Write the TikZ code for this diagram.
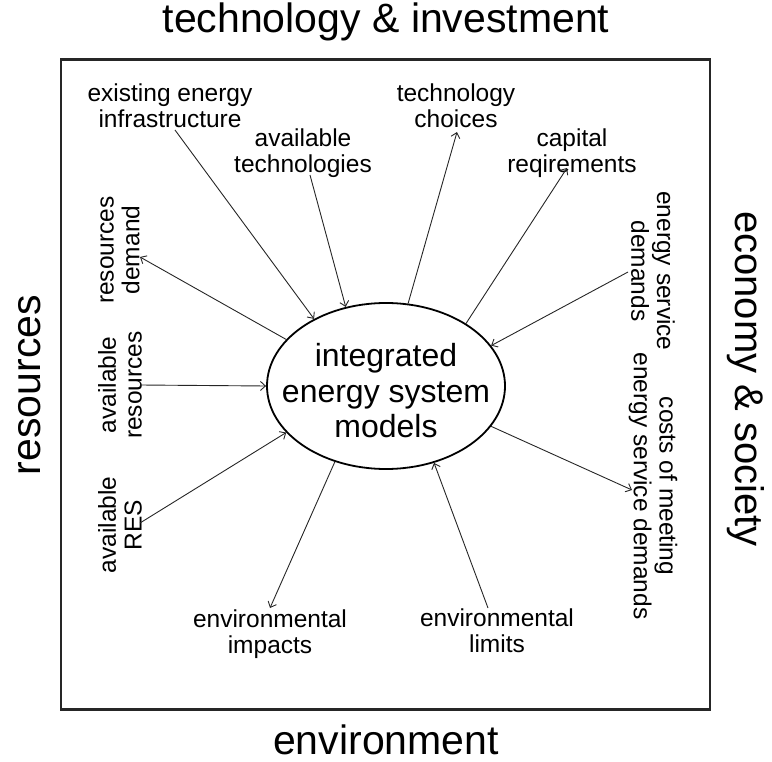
\documentclass[tikz,border=0pt]{standalone}
\usepackage{fontspec}
\setmainfont{Liberation Sans}
\usetikzlibrary{shapes.geometric,arrows.meta,calc}
\tikzset{
  lab/.style={inner sep=0pt, align=center, font=\fontsize{24.5}{25.8}\selectfont},
  big/.style={inner sep=0pt, align=center, font=\fontsize{41}{44}\selectfont},
  conn/.style={line width=0.9pt, draw=black!85, -{Straight Barb[length=5pt,width=9pt,line width=0.9pt]}},
}
\begin{document}
\begin{tikzpicture}[x=1pt,y=-1pt]
\useasboundingbox (0,0) rectangle (772,762);
\draw[line width=2.2pt, black!85] (61,59.5) rectangle (710,709.5);
% outer titles
\node[big] (ttop) at (386,22) {technology \& investment};
\node[big, rotate=90] (tres) at (30,385) {resources};
\node[big, rotate=-90, font=\fontsize{40}{44}\selectfont] (teco) at (746,379) {economy \& society};
\node[big] (tenv) at (386,739.5) {environment};
% central ellipse
\node[ellipse, draw, line width=1.8pt, minimum width=238pt, minimum height=166pt, inner sep=0pt] (ell) at (386,386) {};
\node[inner sep=0pt, align=center, font=\fontsize{32}{35.5}\selectfont] (elltxt) at (386,391) {integrated\\energy system\\models};
% labels
\node[lab] (ex) at (170,106) {existing energy\\infrastructure};
\node[lab] (at) at (303,153) {available\\technologies};
\node[lab] (tc) at (456,106) {technology\\choices};
\node[lab] (cr) at (572,153) {capital\\reqirements};
\node[lab, rotate=-90] (esd) at (653,271) {energy service\\demands};
\node[lab, rotate=-90] (cost) at (653,486) {costs of meeting\\energy service demands};
\node[lab] (el) at (497,631) {environmental\\limits};
\node[lab] (ei) at (270,634) {environmental\\impacts};
\node[lab, rotate=90] (res) at (120,525) {available\\RES};
\node[lab, rotate=90] (ar) at (120,385) {available\\resources};
\node[lab, rotate=90] (rd) at (120,250) {resources\\demand};
% connectors
\draw[conn] ($(ex)+(5,24)$) -- (ell.137);
\draw[conn] ($(at)+(7,22)$) -- (ell.117);
\draw[conn] (ell.75) -- ($(tc)+(1,26)$);
\draw[conn] (ell.38) -- ($(cr)+(-5,15)$);
\draw[conn] ($(esd)+(-25,1)$) -- (ell.21);
\draw[conn] (ell.-21) -- ($(cost)+(-21,4)$);
\draw[conn] ($(el)+(-9,-23)$) -- (ell.-58.6);
\draw[conn] (ell.236) -- ($(ei)+(0,-26)$);
\draw[conn] ($(res)+(20,-2)$) -- (ell.205);
\draw[conn] ($(ar)+(20,0)$) -- (ell.180);
\draw[conn] (ell.155) -- ($(rd)+(20,7)$);
\end{tikzpicture}
\end{document}
